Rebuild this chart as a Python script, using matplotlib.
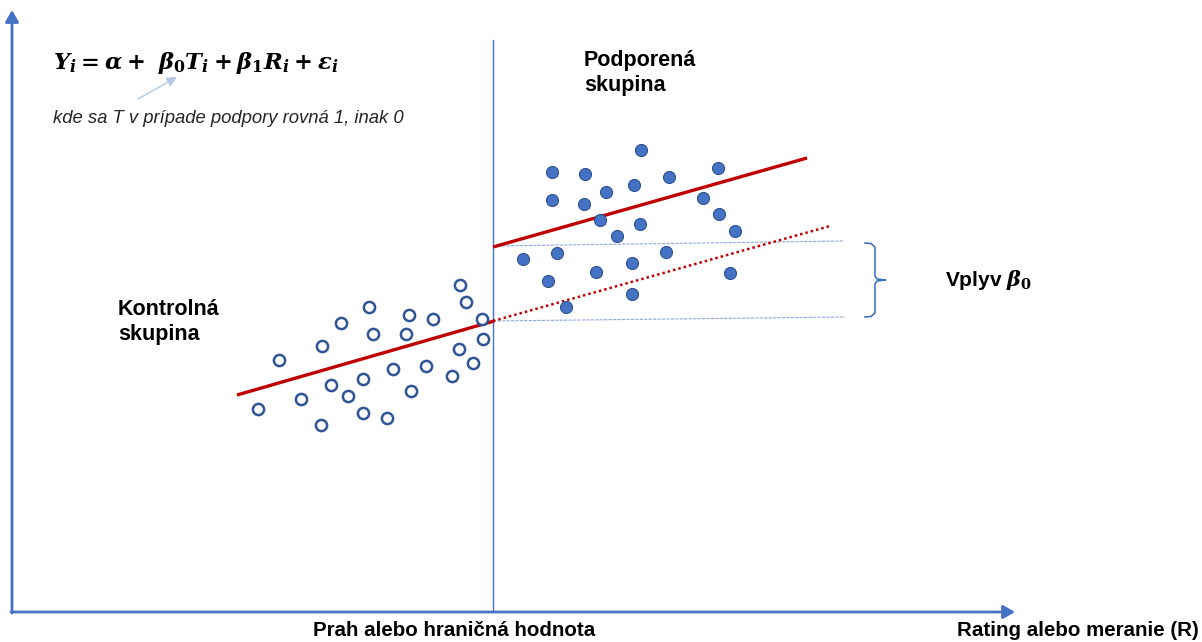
import matplotlib
matplotlib.use("Agg")
import matplotlib.pyplot as plt
from matplotlib.patches import FancyArrowPatch

plt.rcParams['font.family'] = ['Liberation Sans', 'DejaVu Sans']
plt.rcParams['mathtext.fontset'] = 'custom'
plt.rcParams['mathtext.it'] = 'DejaVu Serif:italic:bold'
plt.rcParams['mathtext.rm'] = 'DejaVu Serif:bold'
plt.rcParams['mathtext.bf'] = 'DejaVu Serif:italic:bold'

# ---- data (in figure pixel units, y downward) ----
control_x = [258, 279, 301, 321, 322, 331, 341, 348, 363, 363, 369, 373, 387,
             393, 406, 409, 411, 426, 433, 452, 459, 460, 466, 473, 483, 482]
control_y = [409, 360, 399, 425, 346, 385, 323, 396, 379, 413, 307, 334, 418,
             369, 334, 315, 391, 366, 319, 376, 349, 285, 302, 363, 339, 319]

treated_x = [641, 552, 585, 718, 669, 634, 606, 552, 584, 703, 719, 600, 640,
             735, 617, 523, 557, 666, 548, 596, 632, 632, 730, 566]
treated_y = [150, 172, 174, 168, 177, 185, 192, 200, 204, 198, 214, 220, 224,
             231, 236, 259, 253, 252, 281, 272, 263, 294, 273, 307]

control_fit_x = [237, 494]
control_fit_y = [395, 321]
treated_fit_x = [493, 807]
treated_fit_y = [247, 158]
counterfactual_x = [493, 830]
counterfactual_y = [321, 226]
upper_ref_x = [493, 843]
upper_ref_y = [246, 241]
lower_ref_x = [493, 845]
lower_ref_y = [321, 317]

threshold_x = 493

fig = plt.figure(figsize=(12.02, 6.42), dpi=100)
ax = fig.add_axes([0, 0, 1, 1])
ax.set_xlim(0, 1202)
ax.set_ylim(642, 0)
ax.axis('off')

axis_col = '#4472C4'

# axes with arrows
ax.add_patch(FancyArrowPatch((12, 613), (12, 10), arrowstyle='-|>,head_length=7,head_width=4',
                             color=axis_col, lw=2, mutation_scale=1, shrinkA=0, shrinkB=0))
ax.add_patch(FancyArrowPatch((11, 612), (1015, 612), arrowstyle='-|>,head_length=7,head_width=4',
                             color=axis_col, lw=2, mutation_scale=1, shrinkA=0, shrinkB=0))

# threshold line
ax.plot([threshold_x, threshold_x], [40, 612], color=axis_col, lw=1)

# reference lines
ax.plot(upper_ref_x, upper_ref_y, color='#8FAADC', lw=0.8, ls=(0, (3, 1)))
ax.plot(lower_ref_x, lower_ref_y, color='#8FAADC', lw=0.8, ls=(0, (3, 1)))

# brace
bx = [865, 871, 875, 875, 877, 886, 877, 875, 875, 871, 865]
by = [243, 243.5, 247, 276, 279, 280, 281, 284, 313, 316.5, 317]
ax.plot(bx, by, color=axis_col, lw=1.2)

# fit lines
ax.plot(control_fit_x, control_fit_y, color='#C00000', lw=2.4, solid_capstyle='butt', zorder=3)
ax.plot(treated_fit_x, treated_fit_y, color='#C00000', lw=2.4, solid_capstyle='butt', zorder=3)
ax.plot(counterfactual_x, counterfactual_y, color='#C00000', lw=1.8, ls=(0, (1, 1.2)), zorder=3)

# points
ax.scatter(control_x, control_y, s=65, facecolors='white', edgecolors='#2F5597',
           linewidths=1.8, zorder=4)
ax.scatter(treated_x, treated_y, s=75, facecolors='#4472C4', edgecolors='#2F528F',
           linewidths=0.8, zorder=4)

# texts
ax.text(53, 69, r'$Y_i = \alpha + \ \beta_0 T_i + \beta_1 R_i + \varepsilon_i$',
        fontsize=16.3, va='baseline', ha='left', color='black')
ax.text(53, 123, 'kde sa T v prípade podpory rovná 1, inak 0', fontsize=13.3,
        style='italic', va='baseline', ha='left', color='#262626')
ax.add_patch(FancyArrowPatch((138, 99), (177, 77), arrowstyle='-|>,head_length=6,head_width=3',
                             color='#B4C7E7', lw=1, mutation_scale=1, shrinkA=0, shrinkB=0))

ax.text(584, 66, 'Podporená', fontsize=15.5, fontweight='bold', va='baseline', ha='left')
ax.text(584, 91, 'skupina', fontsize=15.5, fontweight='bold', va='baseline', ha='left')
ax.text(118, 315, 'Kontrolná', fontsize=15.5, fontweight='bold', va='baseline', ha='left')
ax.text(118, 340, 'skupina', fontsize=15.5, fontweight='bold', va='baseline', ha='left')
ax.text(945, 286, r'Vplyv $\beta_0$', fontsize=15, fontweight='bold', va='baseline', ha='left')

ax.text(454, 636, 'Prah alebo hraničná hodnota', fontsize=14.8, fontweight='bold',
        va='baseline', ha='center')
ax.text(1199, 636, 'Rating alebo meranie (R)', fontsize=14.8, fontweight='bold',
        va='baseline', ha='right')

fig.savefig('out.png', dpi=100)
